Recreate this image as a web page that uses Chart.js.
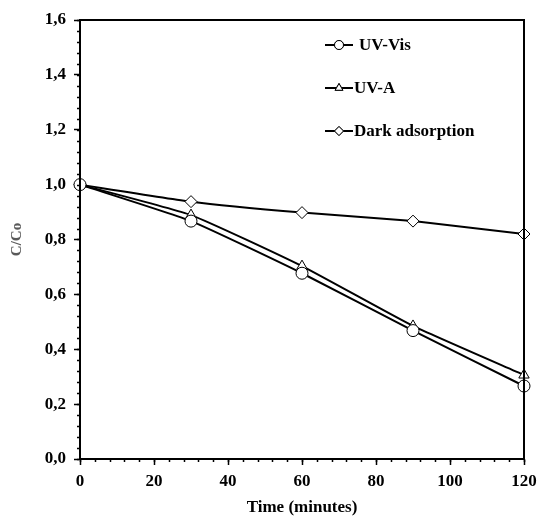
<!DOCTYPE html>
<html>
<head>
<meta charset="utf-8">
<script src="https://cdn.jsdelivr.net/npm/chart.js@4/dist/chart.umd.min.js"></script>
<style>
  html, body { margin: 0; padding: 0; background: #fff; }
  #wrap { width: 539px; height: 518px; position: relative; }
</style>
</head>
<body>
<div id="wrap"><canvas id="chart"></canvas></div>
<script>
// Data
const times = [0, 30, 60, 90, 120];
const uvVis = [1.0, 0.867, 0.677, 0.468, 0.266];
const uvA = [1.0, 0.889, 0.703, 0.485, 0.306];
const dark = [1.0, 0.938, 0.898, 0.867, 0.82];
const seriesNames = ["UV-Vis", "UV-A", "Dark adsorption"];

const FONT = "'Liberation Serif', 'Times New Roman', serif";

function toPoints(ys) {
  return times.map((t, i) => ({ x: t, y: ys[i] }));
}

function makeSet(label, ys, style) {
  return {
    label: label,
    data: toPoints(ys),
    borderColor: "#000",
    borderWidth: 2,
    pointStyle: style,
    pointRadius: 6,
    pointBorderWidth: 1,
    pointBorderColor: "#000",
    pointBackgroundColor: "#fff",
    tension: 0.15,
    fill: false,
    clip: false,
  };
}

// Minor ticks, box border and inline legend
const decor = {
  id: "decor",
  afterDraw(chart) {
    const c = chart.ctx;
    const a = chart.chartArea;
    const xs = chart.scales.x;
    const ys = chart.scales.y;
    c.save();
    c.strokeStyle = "#000";
    c.lineWidth = 1.5;
    // minor ticks
    c.beginPath();
    for (let v = 0; v <= 1.6001; v += 0.04) {
      const y = Math.round(ys.getPixelForValue(v)) + 0.5;
      c.moveTo(a.left, y);
      c.lineTo(a.left - 3, y);
    }
    for (let v = 0; v <= 120; v += 4) {
      const x = Math.round(xs.getPixelForValue(v)) + 0.5;
      c.moveTo(x, a.bottom);
      c.lineTo(x, a.bottom + 3);
    }
    c.stroke();
    // box
    c.lineWidth = 2;
    c.strokeRect(a.left, a.top, a.right - a.left, a.bottom - a.top);

    // legend
    const lx = 325, ly0 = 45, dy = 43;
    c.font = "bold 17px " + FONT;
    c.fillStyle = "#000";
    c.textBaseline = "middle";
    chart.data.datasets.forEach((ds, i) => {
      const y = ly0 + i * dy;
      c.lineWidth = 2;
      c.beginPath();
      c.moveTo(lx, y);
      c.lineTo(lx + 28, y);
      c.stroke();
      c.lineWidth = 1;
      c.fillStyle = "#fff";
      Chart.helpers.drawPoint(c, { pointStyle: ds.pointStyle, radius: 4.5, borderWidth: 1, rotation: 0 }, lx + 14, y);
      c.fill();
      c.stroke();
      c.fillStyle = "#000";
      c.fillText(ds.label, lx + 29 + (i === 0 ? 5 : 0), y + 1);
    });
    c.restore();
  },
};

new Chart(document.getElementById("chart"), {
  type: "line",
  data: {
    datasets: [
      makeSet(seriesNames[0], uvVis, "circle"),
      makeSet(seriesNames[1], uvA, "triangle"),
      makeSet(seriesNames[2], dark, "rectRot"),
    ],
  },
  options: {
    responsive: true,
    maintainAspectRatio: false,
    animation: false,
    layout: { padding: { top: 20, right: 15, left: 0, bottom: 0 } },
    plugins: { legend: { display: false }, tooltip: { enabled: false } },
    scales: {
      x: {
        type: "linear",
        min: 0,
        max: 120,
        ticks: {
          stepSize: 20,
          color: "#000",
          font: { family: FONT, size: 17, weight: "bold" },
          padding: 6,
        },
        grid: { drawOnChartArea: false, drawTicks: true, tickLength: 6, tickColor: "#000", tickWidth: 1.5 },
        border: { display: true, color: "#000", width: 2 },
        title: {
          display: true,
          text: "Time (minutes)",
          color: "#000",
          font: { family: FONT, size: 17, weight: "bold" },
          padding: { top: 11, bottom: 0 },
        },
        afterFit(scale) {
          scale.height = 518 - 459;
          scale.paddingRight = 0;
          scale.paddingLeft = 0;
        },
      },
      y: {
        min: 0,
        max: 1.6,
        ticks: {
          stepSize: 0.2,
          color: "#000",
          font: { family: FONT, size: 17, weight: "bold" },
          padding: 8,
          callback: (v) => v.toFixed(1).replace(".", ","),
        },
        grid: { drawOnChartArea: false, drawTicks: true, tickLength: 6, tickColor: "#000", tickWidth: 1.5 },
        border: { display: true, color: "#000", width: 2 },
        title: {
          display: true,
          text: "C/Co",
          color: "#595959",
          font: { family: FONT, size: 15, weight: "bold" },
          padding: { top: 8, bottom: 0 },
        },
        afterFit(scale) {
          scale.width = 80;
          scale.paddingTop = 0;
          scale.paddingBottom = 0;
        },
      },
    },
  },
  plugins: [decor],
});
</script>
</body>
</html>
